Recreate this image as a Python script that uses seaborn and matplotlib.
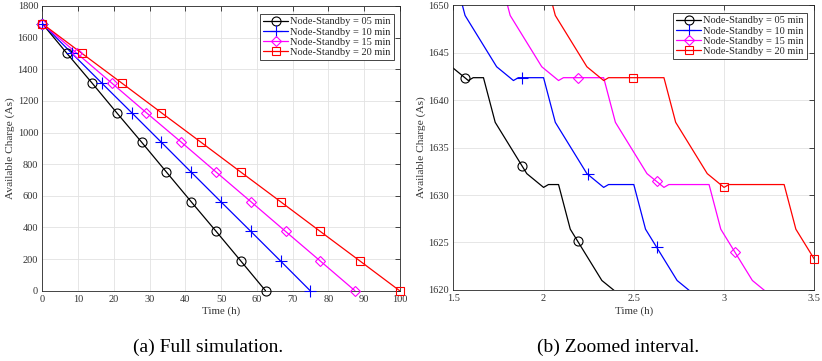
import numpy as np
import pandas as pd
import seaborn as sns
import matplotlib
matplotlib.use("Agg")
import matplotlib.pyplot as plt
from matplotlib.lines import Line2D

# ---- full simulation: available charge (As) at the marked points ----
charge_full = [1688, 1500, 1313, 1125, 938, 750, 563, 375, 188, 0]
t05_full = [0, 6.9, 13.9, 20.8, 27.8, 34.7, 41.6, 48.6, 55.5, 62.4]
t10_full = [0, 8.3, 16.6, 25.0, 33.3, 41.6, 49.9, 58.3, 66.6, 74.9]
t15_full = [0, 9.7, 19.4, 29.1, 38.9, 48.6, 58.3, 68.0, 77.7, 87.4]
t20_full = [0, 11.1, 22.2, 33.3, 44.4, 55.5, 66.6, 77.7, 88.8, 99.9]

# ---- zoomed interval: charge trace between 1.5 h and 3.5 h ----
t05_zoom = [1.25, 1.315, 1.49, 1.583, 1.61, 1.667, 1.732, 1.907, 2.0, 2.027,
            2.083, 2.148, 2.323, 2.417]
q05_zoom = [1653.6, 1648.9, 1643.5, 1642.05, 1642.35, 1642.35, 1637.65, 1632.25,
            1630.8, 1631.1, 1631.1, 1626.4, 1621.0, 1619.55]
t10_zoom = [1.36, 1.5, 1.565, 1.74, 1.833, 1.86, 2.0, 2.065, 2.24, 2.333, 2.36,
            2.5, 2.565, 2.74, 2.833]
q10_zoom = [1653.6, 1653.6, 1648.9, 1643.5, 1642.05, 1642.35, 1642.35, 1637.65,
            1632.25, 1630.8, 1631.1, 1631.1, 1626.4, 1621.0, 1619.55]
t15_zoom = [1.527, 1.75, 1.815, 1.99, 2.083, 2.11, 2.333, 2.398, 2.573, 2.667,
            2.694, 2.917, 2.982, 3.157, 3.25]
q15_zoom = [1653.6, 1653.6, 1648.9, 1643.5, 1642.05, 1642.35, 1642.35, 1637.65,
            1632.25, 1630.8, 1631.1, 1631.1, 1626.4, 1621.0, 1619.55]
t20_zoom = [1.693, 2.0, 2.065, 2.24, 2.333, 2.36, 2.667, 2.732, 2.907, 3.0,
            3.027, 3.333, 3.398, 3.573]
q20_zoom = [1653.6, 1653.6, 1648.9, 1643.5, 1642.05, 1642.35, 1642.35, 1637.65,
            1632.25, 1630.8, 1631.1, 1631.1, 1626.4, 1621.0]

# marker positions on the zoomed traces
m05_t, m05_q = [1.565, 1.879, 2.193], [1642.35, 1633.1, 1625.2]
m10_t, m10_q = [1.879, 2.248, 2.627], [1642.35, 1632.2, 1624.5]
m15_t, m15_q = [2.189, 2.627, 3.061], [1642.35, 1631.45, 1624.0]
m20_t, m20_q = [2.497, 3.0, 3.5], [1642.35, 1630.8, 1623.3]

labels = ["Node-Standby = 05 min", "Node-Standby = 10 min",
          "Node-Standby = 15 min", "Node-Standby = 20 min"]
colors = ["#000000", "#0000ff", "#ff00ff", "#ff0000"]
markers = ["o", "+", "D", "s"]
msizes = [6.5, 9, 5.5, 6]

sns.set_style("white")
plt.rcParams["font.family"] = ["Liberation Serif", "DejaVu Serif"]
plt.rcParams["mathtext.fontset"] = "stix"

fig = plt.figure(figsize=(8.22, 3.61), dpi=100)
ax1 = fig.add_axes([0.0515, 0.1947, 0.4351, 0.7887])
ax2 = fig.add_axes([0.5515, 0.1967, 0.4391, 0.7894])

TXT = "#333333"
GRID = "#e2e2e2"


def style_axes(ax):
    ax.grid(True, color=GRID, linewidth=0.6)
    ax.set_axisbelow(True)
    for s in ax.spines.values():
        s.set_color("#262626")
        s.set_linewidth(0.6)
        s.set_visible(True)
    ax.tick_params(direction="in", top=True, right=True, length=3.5,
                   width=0.6, color="#262626", labelcolor=TXT,
                   labelsize=7.5, pad=3)


def add_legend(ax, anchor):
    handles = [Line2D([], [], color=c, marker=m, markersize=ms, mfc="none",
                      mec=c, mew=0.8, lw=0.9)
               for c, m, ms in zip(colors, markers, msizes)]
    leg = ax.legend(handles, labels, loc="upper right", fontsize=7.5,
                    frameon=True, fancybox=False, framealpha=1,
                    edgecolor="#262626", borderpad=0.3, labelspacing=0.08,
                    handlelength=2.4, handletextpad=0.2, borderaxespad=0,
                    bbox_to_anchor=anchor)
    leg.get_frame().set_linewidth(0.6)


# ---- (a) full simulation ----
full_times = [t05_full, t10_full, t15_full, t20_full]
for t, c, m, ms in zip(full_times, colors, markers, msizes):
    df = pd.DataFrame({"Time": t, "Charge": charge_full})
    sns.lineplot(data=df, x="Time", y="Charge", ax=ax1, color=c, lw=0.9,
                 estimator=None, sort=False, legend=False)
    ax1.plot(df["Time"], df["Charge"], ls="none", marker=m, markersize=ms,
             mfc="none", mec=c, mew=0.8, clip_on=False, zorder=4)

ax1.set_xlim(0, 100)
ax1.set_ylim(0, 1800)
ax1.set_xticks(np.arange(0, 101, 10))
ax1.set_yticks(np.arange(0, 1801, 200))
style_axes(ax1)
ax1.set_xlabel("Time (h)", fontsize=7.8, color=TXT, labelpad=2)
ax1.set_ylabel("Available Charge (As)", fontsize=8.2, color=TXT, labelpad=2)
add_legend(ax1, (0.983, 0.972))

# ---- (b) zoomed interval ----
zoom_t = [t05_zoom, t10_zoom, t15_zoom, t20_zoom]
zoom_q = [q05_zoom, q10_zoom, q15_zoom, q20_zoom]
mark_t = [m05_t, m10_t, m15_t, m20_t]
mark_q = [m05_q, m10_q, m15_q, m20_q]
for t, q, mt, mq, c, m, ms in zip(zoom_t, zoom_q, mark_t, mark_q,
                                   colors, markers, msizes):
    df = pd.DataFrame({"Time": t, "Charge": q})
    sns.lineplot(data=df, x="Time", y="Charge", ax=ax2, color=c, lw=0.9,
                 estimator=None, sort=False, legend=False)
    ax2.plot(mt, mq, ls="none", marker=m, markersize=ms, mfc="none",
             mec=c, mew=0.8, clip_on=False, zorder=4)

ax2.set_xlim(1.5, 3.5)
ax2.set_ylim(1620, 1650)
ax2.set_xticks([1.5, 2, 2.5, 3, 3.5])
ax2.set_xticklabels(["1.5", "2", "2.5", "3", "3.5"])
ax2.set_yticks(np.arange(1620, 1651, 5))
style_axes(ax2)
ax2.set_xlabel("Time (h)", fontsize=7.8, color=TXT, labelpad=2)
ax2.set_ylabel("Available Charge (As)", fontsize=8.2, color=TXT, labelpad=2)
add_legend(ax2, (0.980, 0.972))

# captions
fig.text(208 / 822, 1 - 347 / 361, "(a) Full simulation.", fontsize=14,
         ha="center", va="center", color="black")
fig.text(618 / 822, 1 - 347 / 361, "(b) Zoomed interval.", fontsize=14,
         ha="center", va="center", color="black")

fig.savefig("out.png", dpi=100)
